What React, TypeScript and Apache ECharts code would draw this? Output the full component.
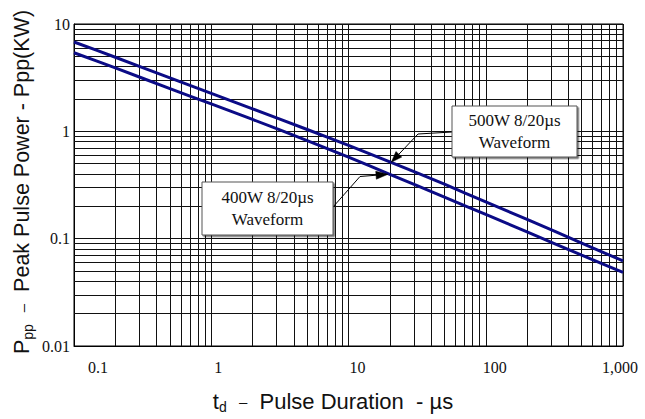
import React, { useEffect, useRef } from 'react';
import * as echarts from 'echarts';

// Tick labels
const xTickLabels = ['0.1', '1', '10', '100', '1,000'];
const yTickLabels = ['0.01', '0.1', '1', '10'];

// Series (pulse duration in µs, peak pulse power in kW)
const pulseDuration = [0.1, 0.2, 0.5, 1, 2, 5, 10, 20, 50, 100, 200, 500, 1000];
const power500W = [6.8, 4.9, 3.15, 2.26, 1.62, 1.04, 0.74, 0.52, 0.322, 0.22, 0.151, 0.091, 0.062];
const power400W = [5.4, 3.9, 2.5, 1.8, 1.29, 0.82, 0.574, 0.398, 0.244, 0.168, 0.1155, 0.0703, 0.0485];

// Minor grid lines (log 2..9 per decade)
const gridMultipliers = [2, 3, 4, 5, 6, 7, 8, 9];
const xDecades = [0.1, 1, 10, 100];
const yDecades = [0.01, 0.1, 1];

// Annotation anchors (data coordinates)
const anchor500 = [20.5, 0.515];
const anchor400 = [19.4, 0.398];

const SERIF = '"Liberation Serif", "Times New Roman", serif';
const SANS = '"Liberation Sans", Arial, sans-serif';
const LINE_COLOR = '#0b0b86';

// label shifts (px) relative to tick, to mimic reference placement
const xLabelShift = [24, 7, 9, 9, -3];

function makeArrow(points: number[][], tip: number[], len: number, half: number) {
  const prev = points[points.length - 1];
  const dx = tip[0] - prev[0];
  const dy = tip[1] - prev[1];
  const d = Math.hypot(dx, dy);
  const ux = dx / d;
  const uy = dy / d;
  const base = [tip[0] - ux * len, tip[1] - uy * len];
  const left = [base[0] - uy * half, base[1] + ux * half];
  const right = [base[0] + uy * half, base[1] - ux * half];
  return [
    {
      type: 'polyline',
      shape: { points: [...points, base] },
      style: { stroke: '#000', lineWidth: 1, fill: null },
      z: 20,
      silent: true,
    },
    {
      type: 'polygon',
      shape: { points: [tip, left, right] },
      style: { fill: '#000', stroke: '#000', lineWidth: 0.5 },
      z: 20,
      silent: true,
    },
  ];
}

function makeBox(x: number, y: number, w: number, h: number, text: string) {
  return [
    {
      type: 'rect',
      shape: { x, y, width: w, height: h },
      style: {
        fill: '#fff',
        stroke: '#555',
        lineWidth: 1,
        shadowColor: 'rgba(0,0,0,0.55)',
        shadowOffsetX: 1.5,
        shadowOffsetY: 1.5,
        shadowBlur: 0,
      },
      z: 21,
      silent: true,
    },
    {
      type: 'text',
      x: x + w / 2,
      y: y + h / 2,
      style: {
        text,
        align: 'center',
        verticalAlign: 'middle',
        fontSize: 17,
        fontFamily: SERIF,
        lineHeight: 22,
        fill: '#111',
      },
      z: 22,
      silent: true,
    },
  ];
}

export default function App() {
  const ref = useRef<HTMLDivElement>(null);

  useEffect(() => {
    if (!ref.current) return;
    const chart = echarts.init(ref.current, null, { renderer: 'svg' });

    const xMinor = xDecades.flatMap((d) => gridMultipliers.map((m) => +(d * m).toPrecision(6)));
    const yMinor = yDecades.flatMap((d) => gridMultipliers.map((m) => +(d * m).toPrecision(6)));

    const xRich: Record<string, any> = {};
    xTickLabels.forEach((_, i) => {
      const s = xLabelShift[i];
      xRich['s' + i] = {
        fontFamily: SERIF,
        fontSize: 16,
        color: '#111',
        padding: s >= 0 ? [0, 0, 0, 2 * s] : [0, -2 * s, 0, 0],
      };
    });

    const option: any = {
      animation: false,
      grid: {
        left: 74,
        right: 22,
        top: 24,
        bottom: 73,
        show: true,
        borderColor: '#000',
        borderWidth: 1,
        backgroundColor: 'transparent',
      },
      xAxis: {
        type: 'log',
        logBase: 10,
        min: 0.1,
        max: 1000,
        axisLine: { show: true, onZero: false, lineStyle: { color: '#000', width: 1 } },
        axisTick: { show: false },
        splitLine: { show: true, lineStyle: { color: '#111', width: 1 } },
        axisLabel: {
          margin: 13,
          formatter: (v: number) => {
            const i = Math.round(Math.log10(v)) + 1;
            return `{s${i}|${xTickLabels[i]}}`;
          },
          rich: xRich,
        },
      },
      yAxis: {
        type: 'log',
        logBase: 10,
        min: 0.01,
        max: 10,
        axisLine: { show: true, onZero: false, lineStyle: { color: '#000', width: 1 } },
        axisTick: { show: false },
        splitLine: { show: true, lineStyle: { color: '#111', width: 1 } },
        axisLabel: {
          margin: 4,
          fontFamily: SERIF,
          fontSize: 16,
          color: '#111',
          formatter: (v: number) => yTickLabels[Math.round(Math.log10(v)) + 2],
        },
      },
      series: [
        {
          type: 'line',
          data: [],
          silent: true,
          z: 1,
          markLine: {
            silent: true,
            symbol: ['none', 'none'],
            label: { show: false },
            emphasis: { disabled: true },
            lineStyle: { color: '#111', width: 1, type: 'solid' },
            data: [
              ...xMinor.map((v) => ({ xAxis: v })),
              ...yMinor.map((v) => ({ yAxis: v })),
            ],
          },
        },
        {
          name: '500W 8/20µs',
          type: 'line',
          data: pulseDuration.map((x, i) => [x, power500W[i]]),
          showSymbol: false,
          smooth: 0.25,
          z: 5,
          lineStyle: { color: LINE_COLOR, width: 3 },
          silent: true,
        },
        {
          name: '400W 8/20µs',
          type: 'line',
          data: pulseDuration.map((x, i) => [x, power400W[i]]),
          showSymbol: false,
          smooth: 0.25,
          z: 5,
          lineStyle: { color: LINE_COLOR, width: 3 },
          silent: true,
        },
      ],
    };

    chart.setOption(option);

    const t500 = chart.convertToPixel({ gridIndex: 0 }, anchor500) as number[];
    const t400 = chart.convertToPixel({ gridIndex: 0 }, anchor400) as number[];

    const graphic: any[] = [
      ...makeArrow([[452, 132], [418, 134]], t500, 11, 4),
      ...makeArrow([[333, 207], [360, 176.5]], t400, 12, 4),
      ...makeBox(452, 106, 125, 51, '500W 8/20µs\nWaveform'),
      ...makeBox(202, 182, 131, 53, '400W 8/20µs\nWaveform'),
      {
        type: 'text',
        x: 333,
        y: 401,
        style: {
          text: '{a|t}{b|d}{a|  }{c|–}{a|  Pulse Duration  - µs}',
          align: 'center',
          verticalAlign: 'middle',
          rich: {
            a: { fontFamily: SANS, fontSize: 22, fill: '#111', lineHeight: 26, verticalAlign: 'middle' },
            b: { fontFamily: SANS, fontSize: 14, fill: '#111', lineHeight: 14, verticalAlign: 'bottom' },
            c: { fontFamily: SANS, fontSize: 15, fill: '#111', lineHeight: 15, verticalAlign: 'middle' },
          },
        },
        silent: true,
      },
      {
        type: 'text',
        x: 22,
        y: 182,
        rotation: Math.PI / 2,
        style: {
          text: '{a|P}{b|pp}{a|  }{c|–}{a|  Peak Pulse Power - Ppp(KW)}',
          align: 'center',
          verticalAlign: 'middle',
          rich: {
            a: { fontFamily: SANS, fontSize: 21.5, fill: '#111', lineHeight: 26, verticalAlign: 'middle' },
            b: { fontFamily: SANS, fontSize: 14, fill: '#111', lineHeight: 14, verticalAlign: 'bottom' },
            c: { fontFamily: SANS, fontSize: 15, fill: '#111', lineHeight: 15, verticalAlign: 'middle' },
          },
        },
        silent: true,
      },
    ];

    chart.setOption({ graphic });

    return () => chart.dispose();
  }, []);

  return (
    <div
      ref={ref}
      style={{ position: 'fixed', left: 0, top: 0, width: 645, height: 419, background: '#fff' }}
    />
  );
}
